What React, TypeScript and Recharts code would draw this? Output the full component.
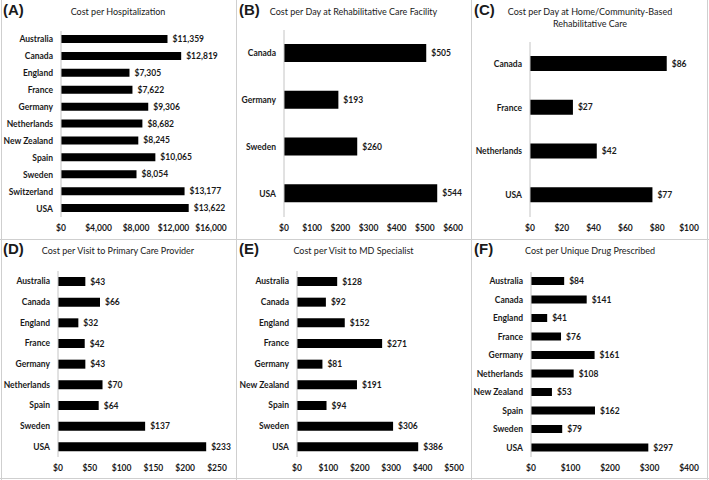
import React from "react";
import { Bar, BarChart, LabelList, XAxis, YAxis } from "recharts";

const hospCountries = ["Australia", "Canada", "England", "France", "Germany", "Netherlands", "New Zealand", "Spain", "Sweden", "Switzerland", "USA"];
const hospCost = [11359, 12819, 7305, 7622, 9306, 8682, 8245, 10065, 8054, 13177, 13622];
const hospTicks = [0, 4000, 8000, 12000, 16000];

const rehabCountries = ["Canada", "Germany", "Sweden", "USA"];
const rehabCost = [505, 193, 260, 544];
const rehabTicks = [0, 100, 200, 300, 400, 500, 600];

const homeCountries = ["Canada", "France", "Netherlands", "USA"];
const homeCost = [86, 27, 42, 77];
const homeTicks = [0, 20, 40, 60, 80, 100];

const pcpCountries = ["Australia", "Canada", "England", "France", "Germany", "Netherlands", "Spain", "Sweden", "USA"];
const pcpCost = [43, 66, 32, 42, 43, 70, 64, 137, 233];
const pcpTicks = [0, 50, 100, 150, 200, 250];

const mdCountries = ["Australia", "Canada", "England", "France", "Germany", "New Zealand", "Spain", "Sweden", "USA"];
const mdCost = [128, 92, 152, 271, 81, 191, 94, 306, 386];
const mdTicks = [0, 100, 200, 300, 400, 500];

const drugCountries = ["Australia", "Canada", "England", "France", "Germany", "Netherlands", "New Zealand", "Spain", "Sweden", "USA"];
const drugCost = [84, 141, 41, 76, 161, 108, 53, 162, 79, 297];
const drugTicks = [0, 100, 200, 300, 400];

const FONT = "Lato, 'Liberation Sans', sans-serif";
const TEXT = "#1a1a1a";

const money = (v: number) => "$" + v.toLocaleString("en-US");

// single-line country label (the default tick wraps "New Zealand")
const CountryTick = (props: any) => (
  <text x={props.x} y={props.y} dy={3} textAnchor="end" fontSize={8.5} fontWeight={700} fill={TEXT} fontFamily={FONT}>
    {props.payload.value}
  </text>
);

type PanelProps = {
  tag: string;
  title: string[];
  names: string[];
  values: number[];
  ticks: number[];
  x: number;
  y: number;
  w: number;
  h: number;
  plotLeft: number;
  plotRight: number;
  plotTop: number;
  plotBottom: number;
  barSize: number;
};

function Panel(p: PanelProps) {
  const data = p.names.map((name, i) => ({ name, value: p.values[i] }));
  const max = p.ticks[p.ticks.length - 1];
  return (
    <div style={{ position: "absolute", left: p.x, top: p.y, width: p.w, height: p.h }}>
      <div style={{ position: "absolute", left: 3, top: 1, fontFamily: "'Liberation Sans', Arial, sans-serif", fontWeight: 700, fontSize: 15, color: TEXT }}>
        {p.tag}
      </div>
      <div
        style={{
          position: "absolute",
          left: 0,
          width: p.w,
          top: 6,
          textAlign: "center",
          fontFamily: FONT,
          fontSize: 9,
          lineHeight: "12px",
          color: TEXT,
        }}
      >
        {p.title.map((t) => (
          <div key={t}>{t}</div>
        ))}
      </div>
      <BarChart
        width={p.w}
        height={p.h}
        data={data}
        layout="vertical"
        margin={{ left: 0, right: p.w - p.plotRight, top: p.plotTop, bottom: p.h - p.plotBottom - 20 }}
        style={{ position: "absolute", left: 0, top: 0 }}
      >
        <XAxis
          type="number"
          domain={[0, max]}
          ticks={p.ticks}
          tickFormatter={money}
          axisLine={false}
          tickLine={false}
          height={20}
          interval={0}
          tick={{ fontSize: 8.5, fontWeight: 700, fill: TEXT, fontFamily: FONT }}
        />
        <YAxis
          type="category"
          dataKey="name"
          width={p.plotLeft}
          axisLine={{ stroke: "#c4c4c4" }}
          tickLine={false}
          interval={0}
          tick={CountryTick}
        />
        <Bar dataKey="value" fill="#000" barSize={p.barSize} isAnimationActive={false}>
          <LabelList
            dataKey="value"
            position="right"
            offset={5}
            formatter={(v: any) => money(Number(v))}
            style={{ fontSize: 8.5, fontWeight: 700, fill: TEXT, fontFamily: FONT }}
          />
        </Bar>
      </BarChart>
    </div>
  );
}

export default function App() {
  const line = "#cfcfcf";
  return (
    <div style={{ position: "absolute", left: 0, top: 0, width: 709, height: 480, background: "#fff", overflow: "hidden" }}>
      <Panel tag="(A)" title={["Cost per Hospitalization"]} names={hospCountries} values={hospCost} ticks={hospTicks}
        x={0} y={0} w={236} h={239} plotLeft={61} plotRight={211} plotTop={31} plotBottom={217} barSize={8} />
      <Panel tag="(B)" title={["Cost per Day at Rehabilitative Care Facility"]} names={rehabCountries} values={rehabCost} ticks={rehabTicks}
        x={236} y={0} w={235} h={239} plotLeft={48} plotRight={217} plotTop={30} plotBottom={217} barSize={18} />
      <Panel tag="(C)" title={["Cost per Day at Home/Community-Based", "Rehabilitative Care"]} names={homeCountries} values={homeCost} ticks={homeTicks}
        x={471} y={0} w={238} h={239} plotLeft={59} plotRight={218} plotTop={42} plotBottom={217} barSize={15} />
      <Panel tag="(D)" title={["Cost per Visit to Primary Care Provider"]} names={pcpCountries} values={pcpCost} ticks={pcpTicks}
        x={0} y={239} w={236} h={241} plotLeft={58} plotRight={217} plotTop={32} plotBottom={218} barSize={9} />
      <Panel tag="(E)" title={["Cost per Visit to MD Specialist"]} names={mdCountries} values={mdCost} ticks={mdTicks}
        x={236} y={239} w={235} h={241} plotLeft={61} plotRight={218} plotTop={32} plotBottom={218} barSize={9} />
      <Panel tag="(F)" title={["Cost per Unique Drug Prescribed"]} names={drugCountries} values={drugCost} ticks={drugTicks}
        x={471} y={239} w={238} h={241} plotLeft={60} plotRight={218} plotTop={33} plotBottom={218} barSize={8} />
      <div style={{ position: "absolute", left: 236, top: 0, width: 1, height: 480, background: line }} />
      <div style={{ position: "absolute", left: 471, top: 0, width: 1, height: 480, background: line }} />
      <div style={{ position: "absolute", left: 0, top: 239, width: 709, height: 1, background: line }} />
      <div style={{ position: "absolute", left: 1, top: 0, width: 1, height: 480, background: line }} />
      <div style={{ position: "absolute", left: 707, top: 0, width: 1, height: 480, background: line }} />
      <div style={{ position: "absolute", left: 0, top: 478, width: 709, height: 1, background: line }} />
    </div>
  );
}
